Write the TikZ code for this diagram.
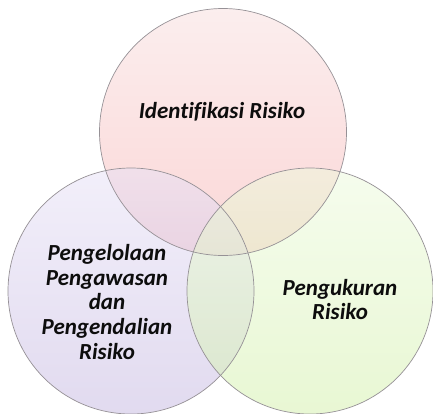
\documentclass[tikz,border=0pt]{standalone}
\usepackage{fontspec}
\setmainfont[Ligatures=NoCommon]{Carlito}
\definecolor{topA}{RGB}{249,222,222}
\definecolor{topB}{RGB}{247,175,175}
\definecolor{leftA}{RGB}{231,225,247}
\definecolor{leftB}{RGB}{197,183,225}
\definecolor{rightA}{RGB}{237,251,221}
\definecolor{rightB}{RGB}{211,241,169}
\definecolor{rim}{RGB}{150,145,150}
\tikzset{
  venn/.style={fill opacity=0.5},
  rimline/.style={draw=rim, line width=0.7pt},
  label/.style={font=\fontsize{23}{24.75}\selectfont\bfseries\itshape, text=black!95, align=center, inner sep=0pt}
}
\begin{document}
\begin{tikzpicture}[x=1pt,y=-1pt]
\useasboundingbox (0,0) rectangle (433,413);
\fill[white] (0,0) rectangle (433,413);
\coordinate (ct) at (223,132);
\coordinate (cl) at (131,291);
\coordinate (cr) at (310,291);
\shade[venn, top color=topA, bottom color=topB] (ct) circle[radius=123.5];
\shade[venn, top color=leftA, bottom color=leftB] (cl) circle[radius=123];
\shade[venn, top color=rightA, bottom color=rightB] (cr) circle[radius=123];
\draw[rimline] (ct) circle[radius=123.5];
\draw[rimline] (cl) circle[radius=123];
\draw[rimline] (cr) circle[radius=123];
\node[label] (t1) at (222,112) {Identifikasi Risiko};
\node[label] (t2) at (107,302) {Pengelolaan\\Pengawasan\\dan\\Pengendalian\\Risiko};
\node[label] (t3) at (340,299.5) {Pengukuran\\Risiko};
\end{tikzpicture}
\end{document}
